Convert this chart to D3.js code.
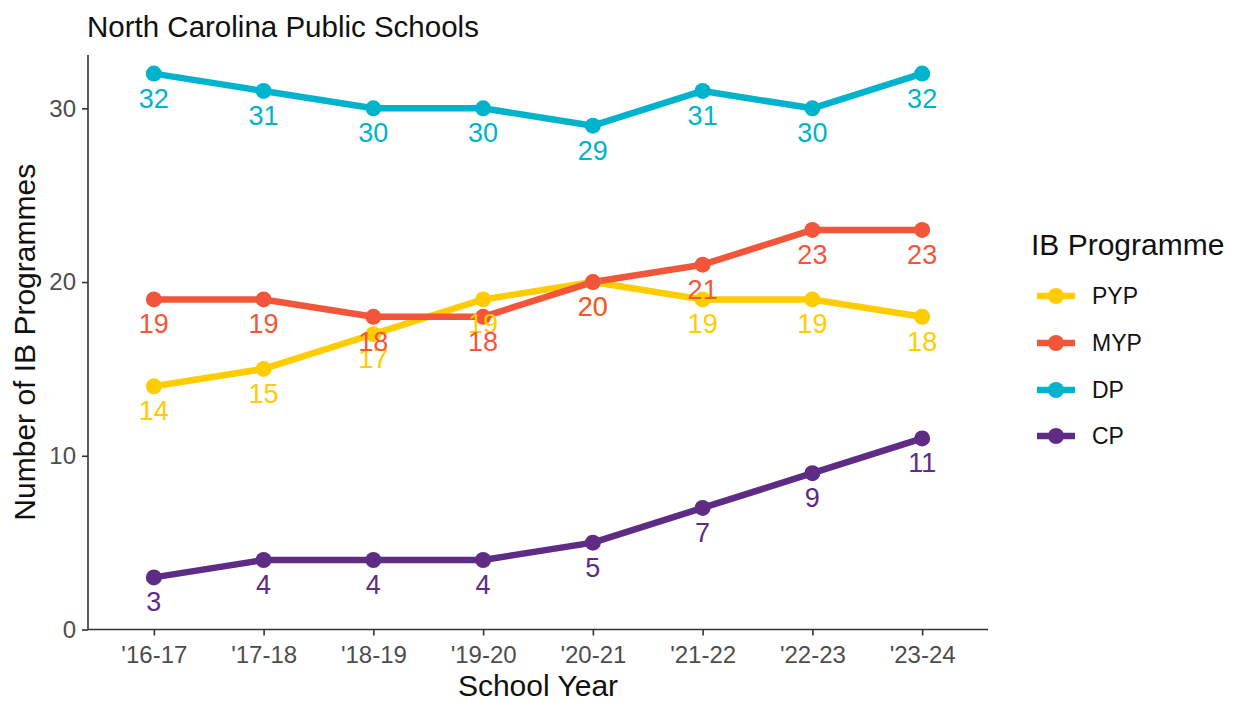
<!DOCTYPE html>
<html><head><meta charset="utf-8">
<script src="https://cdn.jsdelivr.net/npm/d3@7"></script>
<style>body{margin:0;background:#fff}svg{display:block;font-family:"Liberation Sans",Arial,sans-serif}</style>
</head><body><svg id="c" width="1236" height="701"></svg>
<script>
const years = ["'16-17","'17-18","'18-19","'19-20","'20-21","'21-22","'22-23","'23-24"];
const programmes = ["PYP","MYP","DP","CP"];
const colors = ["#FFCC00","#F2563A","#00B3CC","#5E2C85"];
const PYP = [14,15,17,19,20,19,19,18];
const MYP = [19,19,18,18,20,21,23,23];
const DP  = [32,31,30,30,29,31,30,32];
const CP  = [3,4,4,4,5,7,9,11];
const yTicks = [0,10,20,30];
const seriesValues = [PYP, MYP, DP, CP];

const svg = d3.select("#c");
const L = 88, R = 988, T = 55, B = 629.5;
const step = (R - L) / (years.length - 1 + 1.2);
const x = d3.scalePoint().domain(years).range([L + 0.6*step, R - 0.6*step]);
const y = d3.scaleLinear().domain([0, 33.07]).range([B, T]);

const series = programmes.map((p,i)=>({name:p,color:colors[i],vals:seriesValues[i].map((v,j)=>({x:years[j],y:v}))}));

// axes
const xa = svg.append("g").attr("transform",`translate(0,${B})`)
  .call(d3.axisBottom(x).tickSize(6).tickPadding(6));
xa.select(".domain").attr("stroke","#333").attr("stroke-width",1.6).attr("d",`M${L},0H${R}`);
xa.selectAll(".tick line").attr("stroke","#333").attr("stroke-width",1.6);
xa.selectAll(".tick text").attr("fill","#4D4D4D").attr("font-size",24).attr("font-family","Liberation Sans, Arial, sans-serif").attr("dy","0.9em");

const ya = svg.append("g").attr("transform",`translate(${L},0)`)
  .call(d3.axisLeft(y).tickValues(yTicks).tickSize(6).tickPadding(6).tickFormat(d3.format("d")));
ya.select(".domain").attr("stroke","#333").attr("stroke-width",1.6).attr("d",`M0,${T}V${B}`);
ya.selectAll(".tick line").attr("stroke","#333").attr("stroke-width",1.6);
ya.selectAll(".tick text").attr("fill","#4D4D4D").attr("font-size",24).attr("font-family","Liberation Sans, Arial, sans-serif");

const line = d3.line().x(d=>x(d.x)).y(d=>y(d.y));
const g = svg.append("g");
series.forEach(s=>{
  g.append("path").datum(s.vals).attr("d",line).attr("fill","none").attr("stroke",s.color).attr("stroke-width",6.5).attr("stroke-linejoin","round");
});
series.forEach(s=>{
  g.selectAll(null).data(s.vals).enter().append("circle").attr("cx",d=>x(d.x)).attr("cy",d=>y(d.y)).attr("r",8).attr("fill",s.color);
});
series.forEach(s=>{
  g.selectAll(null).data(s.vals).enter().append("text").attr("x",d=>x(d.x)).attr("y",d=>y(d.y)+34)
    .attr("text-anchor","middle").attr("font-size",27).attr("fill",s.color).text(d=>d.y);
});

// titles
svg.append("text").attr("x",87).attr("y",37).attr("font-size",29.5).attr("fill","#111").text("North Carolina Public Schools");
svg.append("text").attr("x",(L+R)/2).attr("y",696).attr("text-anchor","middle").attr("font-size",30).attr("fill","#111").text("School Year");
svg.append("text").attr("transform",`translate(35,${(T+B)/2}) rotate(-90)`).attr("text-anchor","middle").attr("font-size",30).attr("fill","#111").text("Number of IB Programmes");

// legend
const lg = svg.append("g");
lg.append("text").attr("x",1031).attr("y",255).attr("font-size",30).attr("fill","#111").text("IB Programme");
const keyY = [296,343,390,436];
series.forEach((s,i)=>{
  const ky = keyY[i];
  lg.append("line").attr("x1",1037).attr("x2",1075).attr("y1",ky).attr("y2",ky).attr("stroke",s.color).attr("stroke-width",6.5);
  lg.append("circle").attr("cx",1056).attr("cy",ky).attr("r",8).attr("fill",s.color);
  lg.append("text").attr("x",1092).attr("y",ky+8).attr("font-size",23).attr("fill","#111").text(s.name);
});
</script></body></html>
